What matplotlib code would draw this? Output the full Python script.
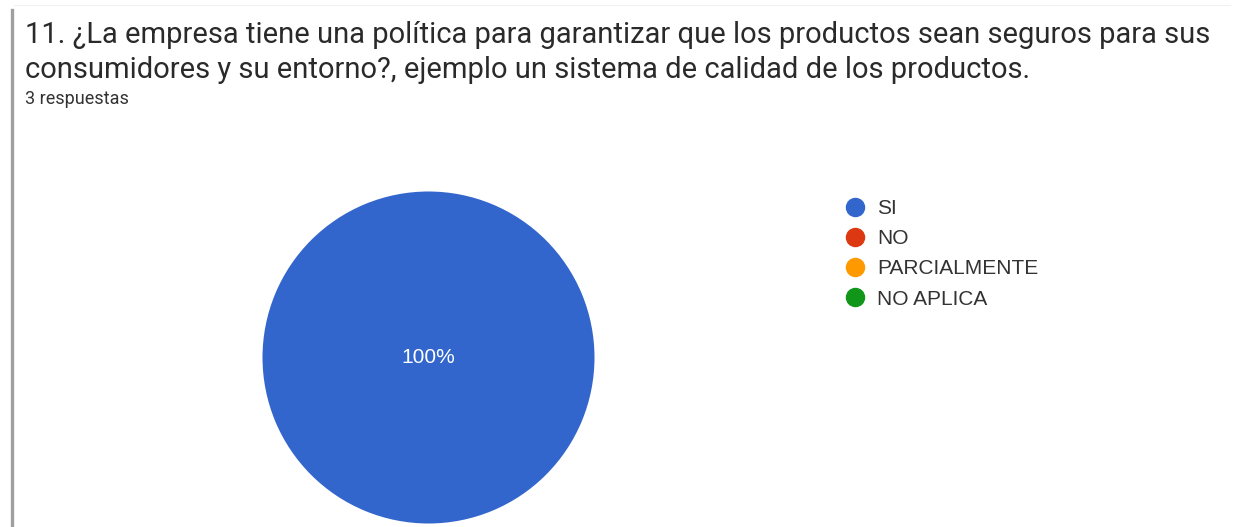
import matplotlib
matplotlib.use('Agg')
import matplotlib.pyplot as plt
from matplotlib.lines import Line2D

W, H = 1238, 527

pregunta = ['11. ¿La empresa tiene una política para garantizar que los productos sean seguros para sus',
            'consumidores y su entorno?, ejemplo un sistema de calidad de los productos.']
n_respuestas = '3 respuestas'
opciones = ['SI', 'NO', 'PARCIALMENTE', 'NO APLICA']
respuestas = [3, 0, 0, 0]
colores = ['#3366cc', '#dc3912', '#ff9900', '#109618']


def fx(px):
    return px / W


def fy(py):
    return 1 - py / H


fig = plt.figure(figsize=(W / 100, H / 100), dpi=100)
fig.patch.set_facecolor('white')

# borde izquierdo de la tarjeta
fig.add_artist(Line2D([fx(11.5), fx(11.5)], [0, fy(10)], color='#a0a0a0', lw=2.4))
fig.add_artist(Line2D([fx(14), fx(1230)], [fy(5), fy(5)], color='#f0f0f0', lw=0.8))

fig.text(fx(25), fy(35), pregunta[0], fontfamily='Roboto', fontsize=21, color='#2a2a2a', va='center')
fig.text(fx(25), fy(70), pregunta[1], fontfamily='Roboto', fontsize=21, color='#2a2a2a', va='center')
fig.text(fx(25), fy(99), n_respuestas, fontfamily='Roboto', fontsize=13, color='#333333', va='center')

# torta
cx, cy, r = 428.5, 357.5, 166
ax = fig.add_axes([fx(cx - r), 1 - (cy + r) / H, 2 * r / W, 2 * r / H])


def etiqueta(p):
    return '%.0f%%' % p if p > 0 else ''


wedges, texts, autotexts = ax.pie(respuestas, colors=colores, startangle=90, counterclock=False,
                                  autopct=etiqueta, pctdistance=0.0,
                                  wedgeprops=dict(linewidth=0),
                                  textprops=dict(color='white', fontsize=15, fontfamily='Liberation Sans'))
ax.set_xlim(-1, 1)
ax.set_ylim(-1, 1)
ax.set_aspect('equal')
ax.axis('off')

handles = [Line2D([], [], marker='o', linestyle='', markersize=13, markerfacecolor=c, markeredgecolor=c)
           for c in colores]
fig.legend(handles, opciones, loc='upper left', bbox_to_anchor=(fx(832), fy(189)), frameon=False,
           prop=dict(family='Liberation Sans', size=15), labelcolor='#333333',
           handletextpad=0.45, labelspacing=0.53, borderpad=0, handlelength=1.2)

fig.savefig('out.png', dpi=100, facecolor='white')
